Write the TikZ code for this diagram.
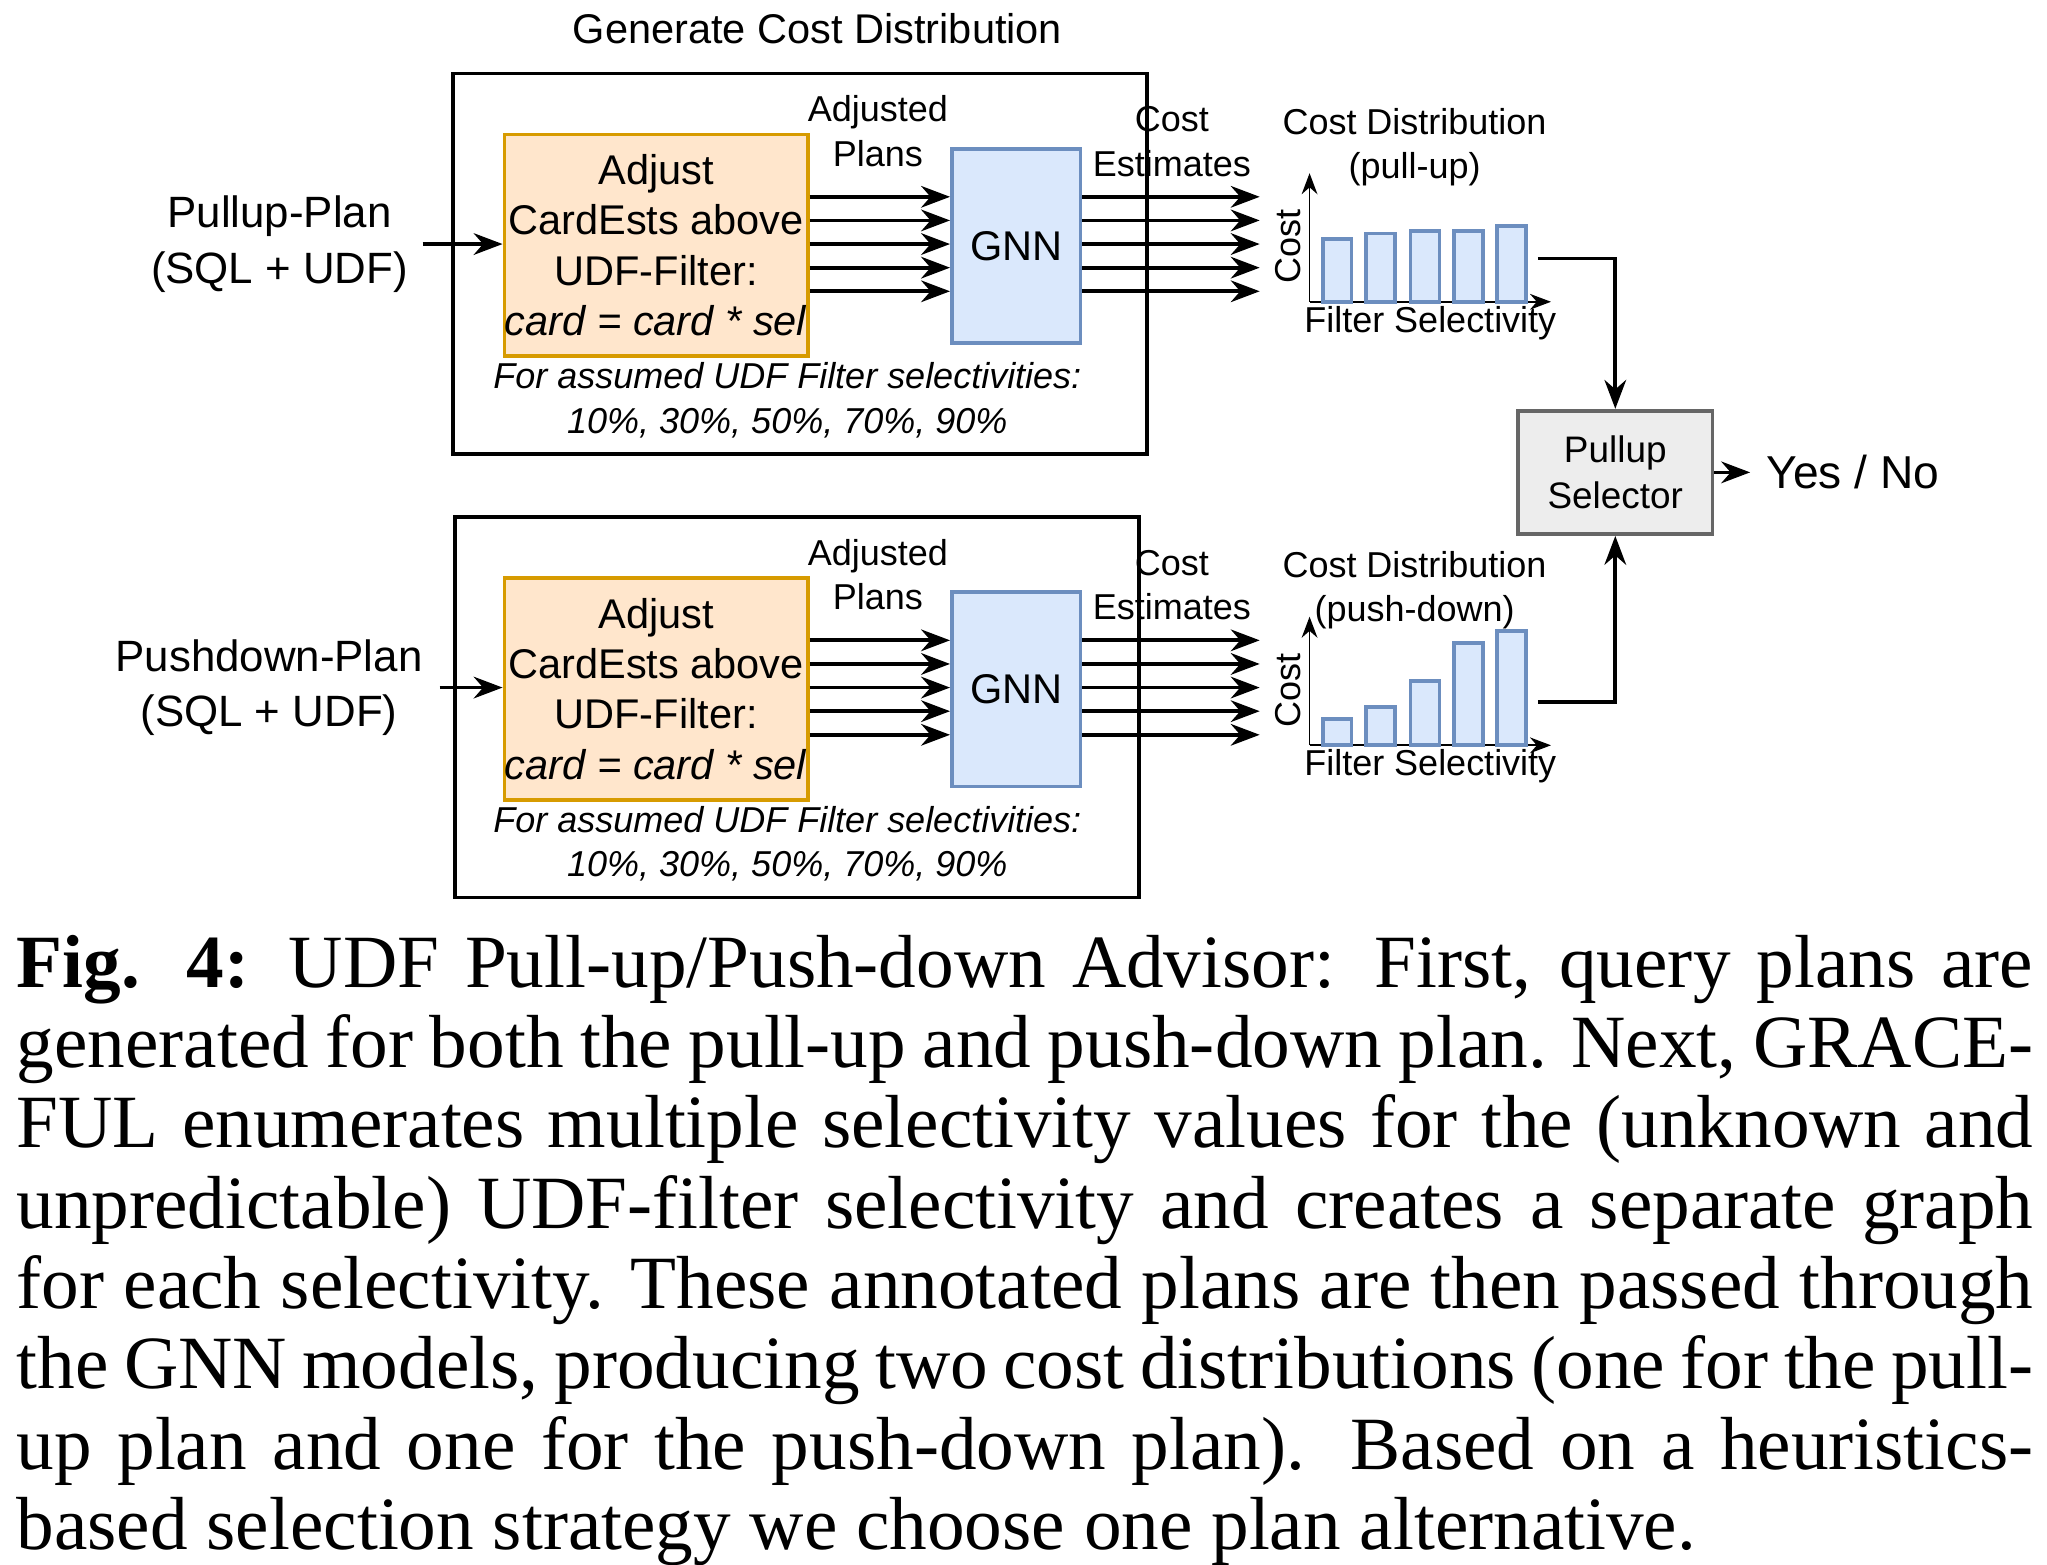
\documentclass[tikz,border=0pt]{standalone}
\usepackage{fontspec}
\setmainfont{Liberation Serif}
\setsansfont{Liberation Sans}
\usetikzlibrary{arrows.meta}

\definecolor{adjfill}{HTML}{FFE6CC}
\definecolor{adjdraw}{HTML}{D79B00}
\definecolor{gnnfill}{HTML}{DAE8FC}
\definecolor{gnndraw}{HTML}{6C8EBF}

\tikzset{
  adjbox/.style={draw=adjdraw, fill=adjfill, thick, minimum width=2.31cm, minimum height=1.69cm, inner sep=0pt},
  gnnbox/.style={draw=gnndraw, fill=gnnfill, thick, minimum width=0.98cm, minimum height=1.48cm},
  lbl/.style={font=\sffamily\fontsize{7.8}{9.6}\selectfont, align=center},
  arr/.style={-{Stealth[length=2.2mm]}, thick},
}

\begin{document}
\begin{tikzpicture}[x=0.01cm, y=-0.01cm, every node/.style={font=\sffamily\fontsize{9}{11}\selectfont}]
    \useasboundingbox (0,0) rectangle (1560,1192);

    % Title
    \node[lbl, font=\sffamily\fontsize{9}{11}\selectfont] (title) at (623,22) {Generate Cost Distribution};

    % Two rows: pull-up (top) and push-down (bottom)
    \foreach \r/\dy/\bl/\br/\name/\ptx/\inx/\dist/\tA/\tB/\tC/\tD/\tE in
        {up/0/345/874/Pullup-Plan/213/322/pull-up/182/178/176/176/172,
         dn/338/347/868/Pushdown-Plan/205/335/push-down/210/201/181/152/143} {
      \begin{scope}[yshift=-\dy*0.01cm]
        % outer frame
        \draw[thick] (\bl,56) rectangle (\br,346);
        \node[adjbox, anchor=north west, align=center, font=\sffamily\fontsize{9}{10.9}\selectfont] (adj\r) at (383,101)
            {Adjust\\CardEsts above\\UDF-Filter:\\\textit{card = card * sel}};
        \node[gnnbox, anchor=north west] (gnn\r) at (724,112) {GNN};
        \node[lbl, font=\sffamily\itshape\fontsize{7.8}{9.6}\selectfont] (sel\r) at (600,305)
            {For assumed UDF Filter selectivities:\\10\%, 30\%, 50\%, 70\%, 90\%};
        \node[align=center, font=\sffamily\fontsize{9.5}{12}\selectfont] (plan\r) at (\ptx,186) {\name\\(SQL + UDF)};
        \coordinate (in\r) at (\inx,186);
        \draw[arr] (in\r) -- (adj\r.west |- in\r);
        \node[lbl] (ap\r) at (669,100) {Adjusted\\Plans};
        \node[lbl] (ce\r) at (893,108) {Cost\\Estimates};
        % plans into GNN and estimates out
        \foreach \y in {150,168,186,204,222} {
          \coordinate (o\r\y) at (960,\y);
          \draw[arr] (adj\r.east |- 0,\y) -- (gnn\r.west |- 0,\y);
          \draw[arr] (gnn\r.east |- 0,\y) -- (o\r\y);
        }
        % chart
        \coordinate (org\r) at (998,230);
        \draw[-{Stealth[length=1.6mm]}] (org\r) -- (998,132);
        \draw[-{Stealth[length=1.6mm]}] (org\r) -- (1182,230);
        \node[lbl, rotate=90] (cy\r) at (982,188) {Cost};
        \node[lbl] (fs\r) at (1090,246) {Filter Selectivity};
        \node[lbl] (cd\r) at (1078,112) {Cost Distribution\\(\dist)};
        \foreach \x/\t in {1008/\tA,1041/\tB,1075/\tC,1108/\tD,1141/\tE}
          \draw[gnndraw, fill=gnnfill, thick] (\x,230) rectangle (\x+22,\t);
        \coordinate (cout\r) at (1172,197);
      \end{scope}
    }

    % Selector
    \node[draw=black!60, fill=black!7, thick, minimum width=1.48cm, minimum height=0.94cm, align=center,
          font=\sffamily\fontsize{8}{10}\selectfont] (selector) at (1231,360) {Pullup\\Selector};
    \draw[arr] (coutup) -| (selector.north);
    \draw[arr] (coutdn) -| (selector.south);
    \node[font=\sffamily\fontsize{10}{12}\selectfont] (yn) at (1412,360) {Yes / No};
    \draw[arr] (selector.east) -- (yn.west);

    % Caption
    \node[anchor=north west, text width=15.36cm, align=justify, inner sep=0pt,
          font=\rmfamily\fontsize{16.3}{17.4}\selectfont] (caption) at (12,712)
      {\textbf{Fig. 4:} UDF Pull-up/Push-down Advisor: First, query plans are generated for both the pull-up and push-down plan. Next, GRACE\-FUL enumerates multiple selectivity values for the (unknown and unpredictable) UDF-filter selectivity and creates a separate graph for each selectivity. These annotated plans are then passed through the GNN models, producing two cost distributions (one for the pull-up plan and one for the push-down plan). Based on a heuristics-based selection strategy we choose one plan alternative.};
\end{tikzpicture}
\end{document}
